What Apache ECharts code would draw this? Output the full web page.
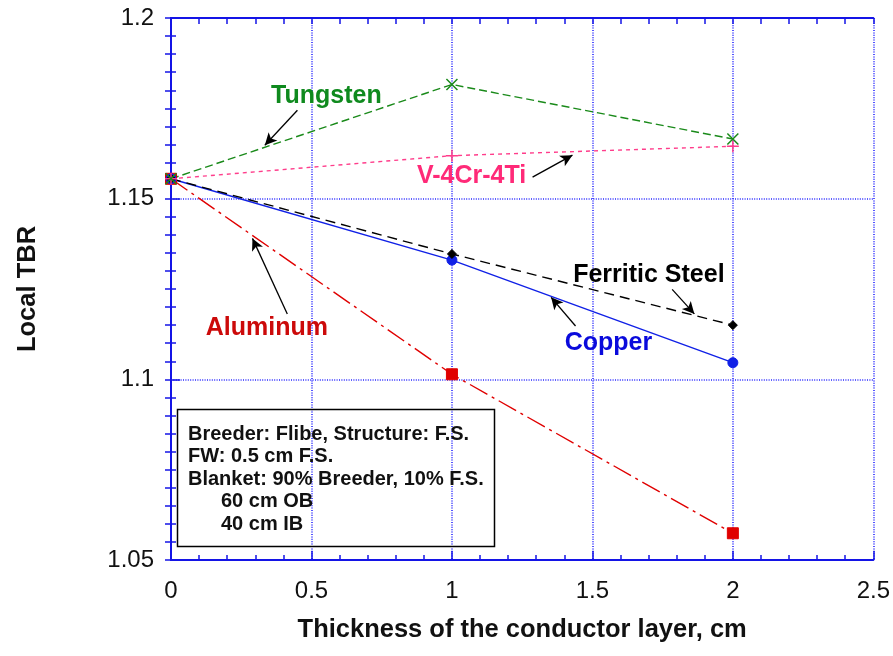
<!DOCTYPE html>
<html>
<head>
<meta charset="utf-8">
<script src="https://cdn.jsdelivr.net/npm/echarts@6/dist/echarts.min.js"></script>
<style>
  html, body { margin: 0; padding: 0; background: #fff; }
  #chart { width: 893px; height: 656px; }
</style>
</head>
<body>
<div id="chart"></div>
<script>
// Conductor layer thickness (cm)
const thickness = [0, 1, 2];

// Local tritium breeding ratio for each conductor material
const tungsten      = [1.1555, 1.1816, 1.1665];
const vanadiumAlloy = [1.1555, 1.1619, 1.1645];
const ferriticSteel = [1.1555, 1.1347, 1.1150];
const copper        = [1.1555, 1.1330, 1.1046];
const aluminum      = [1.1555, 1.1014, 1.0574];

// Axis tick labels
const xTickLabels = ['0', '0.5', '1', '1.5', '2', '2.5'];
const yTickLabels = ['1.05', '1.1', '1.15', '1.2'];

const FONT = "'Liberation Sans', Arial, Helvetica, sans-serif";
const AXIS_BLUE = '#1414e6';
const GRID_BLUE = '#2828ff';

function pairs(xs, ys) { return xs.map((x, i) => [x, ys[i]]); }

function pickLabel(list, v) {
  const hit = list.find(s => Math.abs(parseFloat(s) - v) < 1e-6);
  return hit === undefined ? '' : hit;
}

const chart = echarts.init(document.getElementById('chart'), null, { renderer: 'canvas' });

const axisLineStyle = { color: AXIS_BLUE, width: 2 };
const tickLineStyle = { color: AXIS_BLUE, width: 1.5 };
const gridLineStyle = { color: GRID_BLUE, width: 1.6, type: [1, 1.4] };

function arrow(from, to) {
  return {
    silent: true,
    symbol: ['none', 'arrow'],
    symbolSize: [9, 12],
    lineStyle: { color: '#000', width: 1.3, type: 'solid' },
    label: { show: false },
    emphasis: { disabled: true },
    data: [[{ coord: from }, { coord: to }]]
  };
}

function lineSeries(name, values, color, dash, symbol, size, extra) {
  return Object.assign({
    name: name,
    type: 'line',
    data: pairs(thickness, values),
    clip: false,
    symbol: symbol,
    symbolSize: size,
    showSymbol: true,
    lineStyle: { color: color, width: 1.4, type: dash },
    itemStyle: { color: color, borderColor: color, borderWidth: 1 },
    emphasis: { disabled: true },
    animation: false
  }, extra || {});
}

const option = {
  animation: false,
  backgroundColor: '#fff',
  textStyle: { fontFamily: FONT },
  grid: { left: 171, right: 19, top: 18, bottom: 96, containLabel: false },
  xAxis: [
    {
      type: 'value', position: 'bottom',
      min: 0, max: 2.5, interval: 0.5,
      axisLine: { show: true, lineStyle: axisLineStyle },
      axisTick: { show: true, inside: true, length: 9, lineStyle: tickLineStyle },
      minorTick: { show: true, splitNumber: 5, length: 5, lineStyle: tickLineStyle },
      axisLabel: {
        margin: 19, fontSize: 24, color: '#111', fontFamily: FONT,
        formatter: v => pickLabel(xTickLabels, v)
      },
      splitLine: { show: true, lineStyle: gridLineStyle },
      name: 'Thickness of the conductor layer, cm',
      nameLocation: 'middle', nameGap: 57,
      nameTextStyle: { fontSize: 25.5, fontWeight: 'bold', color: '#111', fontFamily: FONT }
    },
    {
      type: 'value', position: 'top',
      min: 0, max: 2.5, interval: 0.1,
      axisLine: { show: true, lineStyle: axisLineStyle },
      axisTick: { show: true, inside: true, length: 6, lineStyle: tickLineStyle },
      axisLabel: { show: false },
      splitLine: { show: false }
    }
  ],
  yAxis: [
    {
      type: 'value', position: 'left',
      min: 1.05, max: 1.2, interval: 0.05,
      axisLine: { show: true, lineStyle: axisLineStyle },
      axisTick: { show: true, inside: true, length: 9, lineStyle: tickLineStyle },
      minorTick: { show: true, splitNumber: 10, length: 5, lineStyle: tickLineStyle },
      axisLabel: {
        margin: 17, fontSize: 24, color: '#111', fontFamily: FONT,
        formatter: v => pickLabel(yTickLabels, v)
      },
      splitLine: { show: true, lineStyle: gridLineStyle },
      name: 'Local TBR',
      nameLocation: 'middle', nameGap: 130, nameRotate: 90,
      nameTextStyle: { fontSize: 25.5, fontWeight: 'bold', color: '#111', fontFamily: FONT }
    },
    {
      type: 'value', position: 'right',
      min: 1.05, max: 1.2, interval: 0.005,
      axisLine: { show: true, lineStyle: axisLineStyle },
      axisTick: { show: true, inside: true, length: 6, lineStyle: tickLineStyle },
      axisLabel: { show: false },
      splitLine: { show: false }
    }
  ],
  series: [
    lineSeries('Aluminum', aluminum, '#e00000', [20, 5, 3, 5], 'rect', 11, {
      markLine: arrow([0.414, 1.11808], [0.290, 1.13901])
    }),
    lineSeries('Copper', copper, '#1020e6', 'solid', 'circle', 10, {
      markLine: arrow([1.440, 1.11476], [1.353, 1.12270])
    }),
    lineSeries('Ferritic Steel', ferriticSteel, '#000000', [10, 6], 'diamond', 9, {
      markLine: arrow([1.784, 1.12491], [1.863, 1.11811])
    }),
    lineSeries('V-4Cr-4Ti', vanadiumAlloy, '#ff3d8b', [4, 4], 'path://M5,0L5,10M0,5L10,5', 12, {
      itemStyle: { color: '#ff3d8b', borderColor: '#ff3d8b', borderWidth: 1.5 },
      markLine: arrow([1.287, 1.15596], [1.429, 1.16204])
    }),
    lineSeries('Tungsten', tungsten, '#1a8a1a', [8, 4], 'path://M0,0L10,10M10,0L0,10', 11, {
      itemStyle: { color: '#1a8a1a', borderColor: '#1a8a1a', borderWidth: 1.5 },
      markLine: arrow([0.450, 1.17448], [0.334, 1.16480])
    })
  ]
};

chart.setOption(option);

// Curve labels, placed in data coordinates
const curveLabels = [
  { text: 'Tungsten',       at: [0.553, 1.17835], color: '#0f8a1e' },
  { text: 'V-4Cr-4Ti',      at: [1.070, 1.15623], color: '#ff2a78' },
  { text: 'Ferritic Steel', at: [1.701, 1.12887], color: '#000000' },
  { text: 'Copper',         at: [1.557, 1.11007], color: '#0a0adc' },
  { text: 'Aluminum',       at: [0.341, 1.11421], color: '#cc0a0a' }
];

const graphics = curveLabels.map(l => {
  const p = chart.convertToPixel({ xAxisIndex: 0, yAxisIndex: 0 }, l.at);
  return {
    type: 'text', x: p[0], y: p[1], z: 10,
    style: {
      text: l.text, fill: l.color, font: 'bold 25px ' + FONT,
      align: 'center', verticalAlign: 'middle'
    }
  };
});

// Model description box
const boxLines = [
  { text: 'Breeder: Flibe, Structure: F.S.', indent: 0 },
  { text: 'FW: 0.5 cm F.S.', indent: 0 },
  { text: 'Blanket: 90% Breeder, 10% F.S.', indent: 0 },
  { text: '60 cm OB', indent: 1 },
  { text: '40 cm IB', indent: 1 }
];
graphics.push({
  type: 'rect', z: 5,
  shape: { x: 177.5, y: 409.5, width: 317, height: 137 },
  style: { fill: 'none', stroke: '#000', lineWidth: 1.5 }
});
boxLines.forEach((ln, i) => {
  graphics.push({
    type: 'text', z: 6,
    x: 188 + ln.indent * 33, y: 434 + i * 22.5,
    style: { text: ln.text, fill: '#111', font: 'bold 20px ' + FONT, verticalAlign: 'middle' }
  });
});

chart.setOption({ graphic: graphics });
</script>
</body>
</html>
